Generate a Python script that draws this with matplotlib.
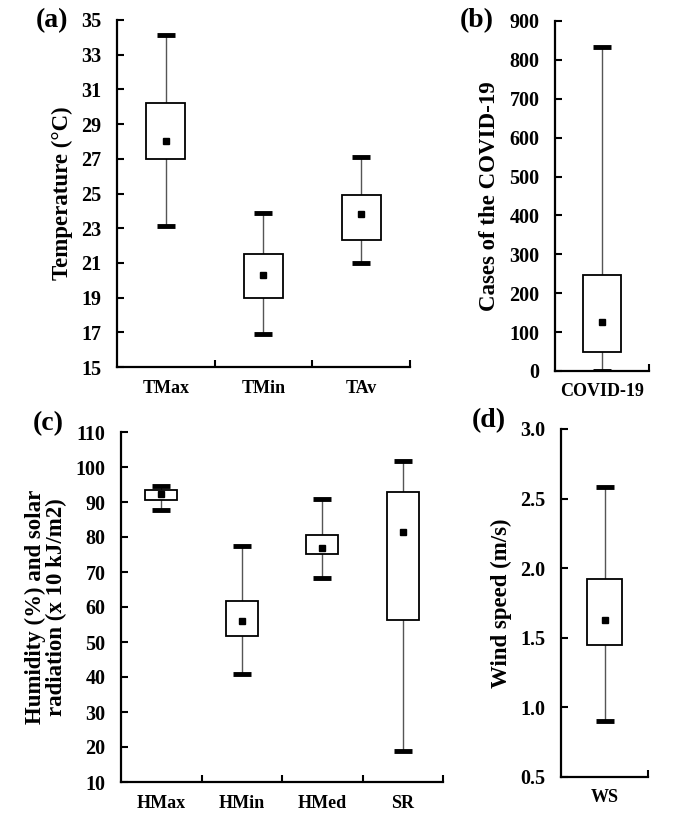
import numpy as np
import matplotlib
matplotlib.use("Agg")
import matplotlib.pyplot as plt
from matplotlib.ticker import FixedLocator

plt.rcParams['font.family'] = ['Liberation Serif', 'DejaVu Serif']
plt.rcParams['font.weight'] = 'bold'
plt.rcParams['axes.labelweight'] = 'bold'

# ---- data (min, q1, mean, q3, max) ----
temp_names = ["TMax", "TMin", "TAv"]
temp_min   = [23.1, 16.9, 21.0]
temp_q1    = [27.0, 19.0, 22.3]
temp_mean  = [28.0, 20.3, 23.8]
temp_q3    = [30.2, 21.5, 24.9]
temp_max   = [34.15, 23.9, 27.1]

covid_names = ["COVID-19"]
covid_min   = [0]
covid_q1    = [50]
covid_mean  = [125]
covid_q3    = [246]
covid_max   = [832]

hum_names = ["HMax", "HMin", "HMed", "SR"]
hum_min   = [87.8, 41.0, 68.4, 18.9]
hum_q1    = [90.7, 51.6, 75.2, 56.2]
hum_mean  = [92.3, 55.9, 77.0, 81.3]
hum_q3    = [93.5, 61.8, 80.6, 92.9]
hum_max   = [94.7, 77.3, 90.9, 101.7]

ws_names = ["WS"]
ws_min   = [0.90]
ws_q1    = [1.45]
ws_mean  = [1.63]
ws_q3    = [1.92]
ws_max   = [2.58]

W, H = 688, 818
fig = plt.figure(figsize=(W / 100, H / 100), dpi=100)


def px_axes(left, right, top, bottom):
    return fig.add_axes([left / W, (H - bottom) / H, (right - left) / W, (bottom - top) / H])


def boxpanel(ax, names, lo, q1, mean, q3, hi, ylim, yticks, ylabel, labx, ytickfmt="{:g}"):
    x = np.arange(len(names))
    # whisker line
    ax.vlines(x, lo, hi, color="#555555", lw=1.0, zorder=1)
    # box
    ax.bar(x, np.array(q3) - np.array(q1), bottom=q1, width=0.4,
           facecolor="white", edgecolor="black", lw=1.3, zorder=2)
    # caps
    ax.plot(x, lo, ls="none", marker="_", ms=13.5, mew=3.5, color="black", zorder=3)
    ax.plot(x, hi, ls="none", marker="_", ms=13.5, mew=3.5, color="black", zorder=3)
    # mean
    ax.plot(x, mean, ls="none", marker="s", ms=5, color="black", zorder=4)

    ax.set_xlim(-0.5, len(names) - 0.5)
    ax.set_ylim(*ylim)
    ax.set_yticks(yticks)
    ax.set_yticklabels([ytickfmt.format(t) for t in yticks], fontsize=14.5,
                       fontweight="bold")
    ax.set_xticks(x)
    ax.set_xticklabels(names, fontsize=13, fontweight="bold")
    ax.xaxis.set_minor_locator(FixedLocator(np.arange(len(names)) + 0.5))
    ax.tick_params(axis="x", which="major", length=0, pad=9)
    ax.tick_params(axis="x", which="minor", direction="in", length=5, width=1.5)
    ax.tick_params(axis="y", direction="in", length=5, width=1.5, pad=11)
    for s in ["top", "right"]:
        ax.spines[s].set_visible(False)
    for s in ["left", "bottom"]:
        ax.spines[s].set_linewidth(1.6)
    ax.set_ylabel(ylabel, fontsize=16.5, fontweight="bold", linespacing=1.0)
    ax.yaxis.set_label_coords(labx, 0.5)


ax_a = px_axes(117, 410, 20, 367)
boxpanel(ax_a, temp_names, temp_min, temp_q1, temp_mean, temp_q3, temp_max,
         (15, 35), np.arange(15, 36, 2), "Temperature (°C)", -0.150)

ax_b = px_axes(555, 649, 21, 371)
boxpanel(ax_b, covid_names, covid_min, covid_q1, covid_mean, covid_q3, covid_max,
         (0, 900), np.arange(0, 901, 100), "Cases of the COVID-19", -0.585)

ax_c = px_axes(121, 443, 432, 782)
boxpanel(ax_c, hum_names, hum_min, hum_q1, hum_mean, hum_q3, hum_max,
         (10, 110), np.arange(10, 111, 10),
         "Humidity (%) and solar\nradiation (x 10 kJ/m2)", -0.168)

ax_d = px_axes(561, 648, 429, 777)
boxpanel(ax_d, ws_names, ws_min, ws_q1, ws_mean, ws_q3, ws_max,
         (0.5, 3.0), np.arange(0.5, 3.01, 0.5), "Wind speed (m/s)", -0.563,
         ytickfmt="{:.1f}")

for lab, xp, yp in [("(a)", 52, 21), ("(b)", 477, 21), ("(c)", 48, 424), ("(d)", 489, 421)]:
    fig.text(xp / W, 1 - yp / H, lab, fontsize=20, fontweight="bold",
             ha="center", va="center")

fig.savefig("out.png", dpi=100)
